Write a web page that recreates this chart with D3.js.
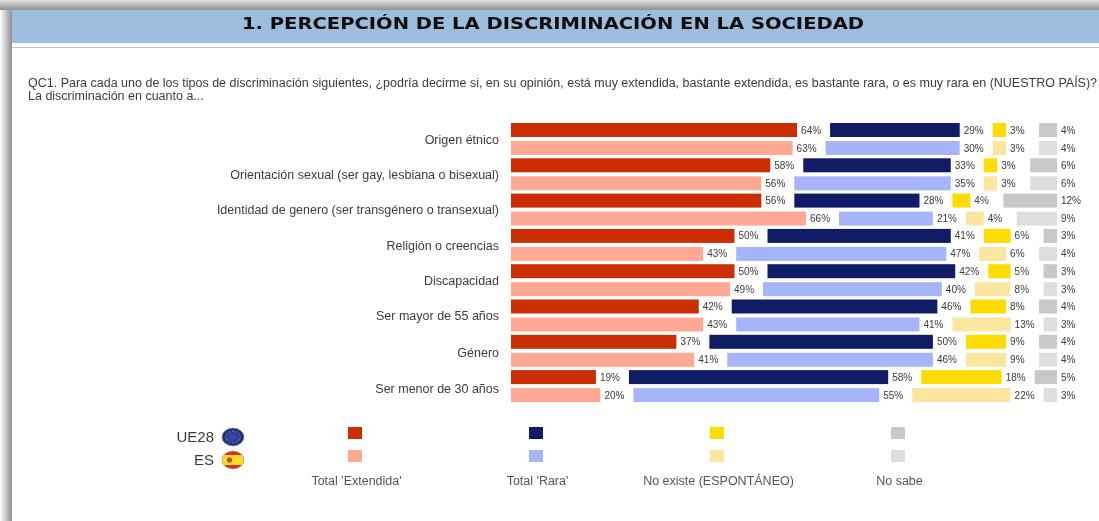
<!DOCTYPE html>
<html>
<head>
<meta charset="utf-8">
<style>
  html, body { margin: 0; padding: 0; background: #fff; overflow: hidden; }
  svg { display: block; font-family: "Liberation Sans", Arial, sans-serif; filter: blur(0.3px); }
  .domain, .tick line { display: none; }
</style>
</head>
<body>
<svg id="chart" width="1099" height="521"></svg>
<script src="https://cdn.jsdelivr.net/npm/d3@7"></script>
<script>
// values, one array per answer, UE28 and ES alternate by category
var categories = ["Origen étnico", "Orientación sexual (ser gay, lesbiana o bisexual)",
  "Identidad de genero (ser transgénero o transexual)", "Religión o creencias", "Discapacidad",
  "Ser mayor de 55 años", "Género", "Ser menor de 30 años"];
var groups = ["UE28", "ES"];
var answers = ["Total 'Extendida'", "Total 'Rara'", "No existe (ESPONTÁNEO)", "No sabe"];

var extendidaUE = [64, 58, 56, 50, 50, 42, 37, 19];
var extendidaES = [63, 56, 66, 43, 49, 43, 41, 20];
var raraUE = [29, 33, 28, 41, 42, 46, 50, 58];
var raraES = [30, 35, 21, 47, 40, 41, 46, 55];
var noExisteUE = [3, 3, 4, 6, 5, 8, 9, 18];
var noExisteES = [3, 3, 4, 6, 8, 13, 9, 22];
var noSabeUE = [4, 6, 12, 3, 3, 4, 4, 5];
var noSabeES = [4, 6, 9, 4, 3, 3, 4, 3];

var seriesUE = [extendidaUE, raraUE, noExisteUE, noSabeUE];
var seriesES = [extendidaES, raraES, noExisteES, noSabeES];

var COLORS_UE = ["#cc2e04", "#101c66", "#ffdc00", "#c8c8c8"];
var COLORS_ES = ["#ffa995", "#a6b5fa", "#fbe69f", "#dedede"];
var TEXTCOLOR = "#3c3c3c";
var GAP = 33; // room left after each segment for its label

var svg = d3.select("#chart");
var defs = svg.append("defs");

// soft shadow around the slide, only top and left show
var shadowTop = defs.append("linearGradient").attr("id", "shadowTop").attr("x2", 0).attr("y2", 1);
shadowTop.append("stop").attr("offset", 0).attr("stop-color", "#e4e4e4");
shadowTop.append("stop").attr("offset", 1).attr("stop-color", "#8f8f8f");
var shadowLeft = defs.append("linearGradient").attr("id", "shadowLeft");
shadowLeft.append("stop").attr("offset", 0).attr("stop-color", "#fff");
shadowLeft.append("stop").attr("offset", 1).attr("stop-color", "#8e8e8e");

svg.append("rect").attr("x", 0).attr("y", 0).attr("width", 1099).attr("height", 10).attr("fill", "url(#shadowTop)");
svg.append("rect").attr("x", 0).attr("y", 10).attr("width", 12).attr("height", 511).attr("fill", "url(#shadowLeft)");

// title band
svg.append("rect").attr("x", 12).attr("y", 10).attr("width", 1087).attr("height", 33).attr("fill", "#9cbedc");
svg.append("rect").attr("x", 12).attr("y", 47).attr("width", 1087).attr("height", 1).attr("fill", "#b9c8c4");
svg.append("text")
  .attr("x", 242).attr("y", 29)
  .attr("textLength", 622)
  .attr("lengthAdjust", "spacingAndGlyphs")
  .style("font-family", "'DejaVu Sans'")
  .style("font-weight", "bold")
  .style("font-size", "16px")
  .attr("fill", "#0c0c0c")
  .text("1. PERCEPCIÓN DE LA DISCRIMINACIÓN EN LA SOCIEDAD");

// question
svg.append("text").attr("x", 28).attr("y", 87).style("font-size", "12.5px").attr("fill", TEXTCOLOR)
  .text("QC1. Para cada uno de los tipos de discriminación siguientes, ¿podría decirme si, en su opinión, está muy extendida, bastante extendida, es bastante rara, o es muy rara en (NUESTRO PAÍS)?");
svg.append("text").attr("x", 28).attr("y", 100).style("font-size", "12.5px").attr("fill", TEXTCOLOR)
  .text("La discriminación en cuanto a...");

// scales
var x = d3.scaleLinear().domain([0, 100]).range([0, 447]);
var y = d3.scaleBand().domain(d3.range(categories.length)).range([123, 405.4]);
var inner = d3.scalePoint().domain(groups).range([0, 18]);

// category labels come from a left axis
var axis = d3.axisLeft(y).tickSize(0).tickPadding(12).tickFormat(function(i) { return categories[i]; });
svg.append("g")
  .attr("transform", "translate(511,-1)")
  .call(axis)
  .call(function(g) {
    g.selectAll("text").style("font-size", "12.5px").style("font-family", "'Liberation Sans'").attr("fill", TEXTCOLOR);
    // the two last labels sit a bit low in the original
    g.selectAll(".tick").filter(function(i) { return i >= 6; }).select("text").attr("y", 2);
  });

// one flat row per drawn bar, the gap is added on top of the cumulated percent
function buildRows(series, group, colors) {
  var rows = [];
  categories.forEach(function(c, i) {
    var cum = 0;
    series.forEach(function(values, s) {
      rows.push({ cat: i, group: group, value: values[i], start: cum, step: s, color: colors[s] });
      cum += values[i];
    });
  });
  return rows;
}
var rows = buildRows(seriesUE, "UE28", COLORS_UE).concat(buildRows(seriesES, "ES", COLORS_ES));

var plot = svg.append("g").attr("transform", "translate(511,0)");

plot.selectAll("rect.bar")
  .data(rows)
  .enter().append("rect")
    .attr("class", "bar")
    .attr("x", function(d) { return x(d.start) + GAP * d.step; })
    .attr("y", function(d) { return y(d.cat) + inner(d.group); })
    .attr("width", function(d) { return x(d.value); })
    .attr("height", 14)
    .attr("fill", function(d) { return d.color; });

plot.selectAll("text.value")
  .data(rows)
  .enter().append("text")
    .attr("class", "value")
    .attr("x", function(d) { return x(d.start + d.value) + GAP * d.step + 4; })
    .attr("y", function(d) { return y(d.cat) + inner(d.group) + 10.5; })
    .style("font-size", "10px")
    .attr("fill", TEXTCOLOR)
    .text(function(d) { return d.value + "%"; });

// legend
var legendX = d3.scalePoint().domain(answers).range([355, 898]);
var legendY = d3.scalePoint().domain(groups).range([433, 456]);
var legendColors = { UE28: COLORS_UE, ES: COLORS_ES };

groups.forEach(function(g) {
  svg.selectAll("rect.key-" + g)
    .data(answers)
    .enter().append("rect")
      .attr("class", "key-" + g)
      .attr("x", function(a) { return legendX(a) - 7; })
      .attr("y", legendY(g) - 6)
      .attr("width", 14)
      .attr("height", 12)
      .attr("fill", function(a, i) { return legendColors[g][i]; });

  svg.append("text")
    .attr("x", 214).attr("y", legendY(g) + 9)
    .attr("text-anchor", "end")
    .style("font-size", "15px")
    .attr("fill", TEXTCOLOR)
    .text(g);
});

svg.selectAll("text.key-label")
  .data(answers)
  .enter().append("text")
    .attr("class", "key-label")
    .attr("x", function(a, i) { return [356.5, 537.5, 718.5, 899.5][i]; })
    .attr("y", 485)
    .attr("text-anchor", "middle")
    .style("font-size", "12.5px")
    .attr("fill", "#555")
    .text(function(a) { return a; });

// flags, small glossy discs
var euGrad = defs.append("radialGradient").attr("id", "euGrad");
euGrad.append("stop").attr("offset", 0).attr("stop-color", "#3b4fb8");
euGrad.append("stop").attr("offset", 1).attr("stop-color", "#1b2a78");

var euFlag = svg.append("g").attr("transform", "translate(233,437)");
euFlag.append("ellipse").attr("rx", 11).attr("ry", 9).attr("fill", "url(#euGrad)").attr("stroke", "#8a8fb0").attr("stroke-width", 0.5);
euFlag.selectAll("circle")
  .data(d3.range(12))
  .enter().append("circle")
    .attr("cx", function(i) { return 7 * Math.cos(i * Math.PI / 6); })
    .attr("cy", function(i) { return 5.8 * Math.sin(i * Math.PI / 6); })
    .attr("r", 0.6)
    .attr("fill", "#d8c23a");

var esClip = defs.append("clipPath").attr("id", "esClip");
esClip.append("ellipse").attr("rx", 11).attr("ry", 9);
var esFlag = svg.append("g").attr("transform", "translate(233,460)");
var esBands = esFlag.append("g").attr("clip-path", "url(#esClip)");
esBands.append("rect").attr("x", -11).attr("y", -9).attr("width", 22).attr("height", 18).attr("fill", "#d8321e");
esBands.append("rect").attr("x", -11).attr("y", -5).attr("width", 22).attr("height", 10).attr("fill", "#f7dc2a");
esFlag.append("circle").attr("cx", -3.5).attr("cy", 0).attr("r", 2.6).attr("fill", "#c8452c");
esFlag.append("ellipse").attr("rx", 11).attr("ry", 9).attr("fill", "none").attr("stroke", "#a89a70").attr("stroke-width", 0.5);
</script>
</body>
</html>
